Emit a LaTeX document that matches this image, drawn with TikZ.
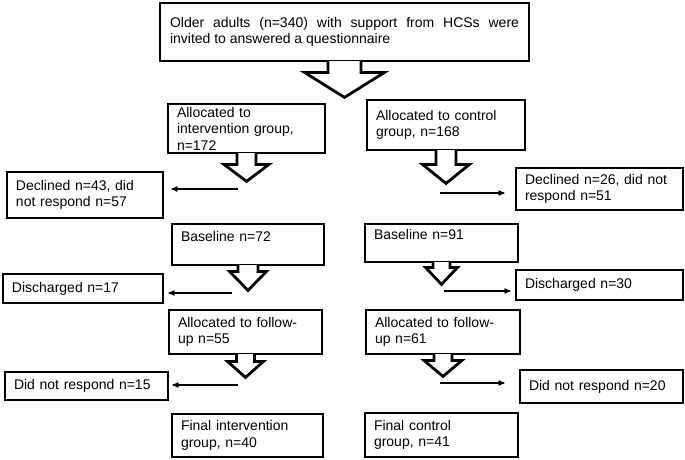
\documentclass[tikz,border=0pt]{standalone}
\usepackage{fontspec}
\setmainfont{Liberation Sans}
\usepackage{tikz}
\usetikzlibrary{arrows}

\tikzset{
  box/.style={draw, line width=2.8pt, align=left, inner xsep=9pt, inner ysep=0pt,
    font=\fontsize{14}{16.5}\selectfont},
  blockline/.style={line width=2.8pt, line cap=rect, line join=miter},
  link/.style={->, >=stealth', line width=1.2pt},
}

% block arrow under a box: node, half shaft, half head, shaft length, head length
\newcommand{\flowarrow}[5]{%
  \fill[white] ([xshift=-#2pt]#1.south) ++(0,-1.6) rectangle ++(2*#2,1.6+#4);
  \draw[blockline] ([xshift=-#2pt]#1.south) -- ++(0,#4) -- ++(#2-#3,0)
    -- ++(#3,#5) -- ++(#3,-#5) -- ++(#2-#3,0) -- ++(0,-#4);
}

\begin{document}
\begin{tikzpicture}[x=1pt,y=-1pt]
\useasboundingbox (0,0) rectangle (685,459);

\node[box, align=justify, inner xsep=10pt, text width=349pt, minimum height=58pt] (start) at (344.5,32)
  {Older adults (n=340) with support from HCSs were\linebreak invited to answered a questionnaire};

% intervention column
\node[box, text width=139pt, minimum height=49pt] (intalloc) at (246.5,128.5) {Allocated to\\intervention group,\\n=172};
\node[box, text width=134pt, minimum height=41pt] (intbase)  at (248,244.5)   {Baseline n=72\\\mbox{}};
\node[box, text width=135pt, minimum height=44pt] (intfu)    at (245.5,332)   {Allocated to follow-\\up n=55};
\node[box, text width=133pt, minimum height=43pt] (intfinal) at (247.5,435.5) {Final intervention\\group, n=40};

% control column
\node[box, text width=140pt, minimum height=50pt] (ctrlalloc) at (446,125)    {Allocated to control\\group, n=168};
\node[box, text width=135pt, minimum height=38pt] (ctrlbase)  at (441.5,243)  {Baseline n=91\\\mbox{}};
\node[box, text width=136pt, minimum height=44pt] (ctrlfu)    at (443,332)    {Allocated to follow-\\up n=61};
\node[box, text width=135pt, minimum height=44pt] (ctrlfinal) at (441.5,435)  {Final control\\group, n=41};

% drop-outs
\node[box, text width=138pt, minimum height=46pt] (intdecl)   at (85,195)     {Declined n=43, did\\not respond n=57};
\node[box, text width=149pt, minimum height=42pt] (ctrldecl)  at (599.5,189)  {Declined n=26, did not\\respond n=51};
\node[box, text width=142pt, minimum height=29pt] (intdisch)  at (83,288.5)   {Discharged n=17};
\node[box, text width=149pt, minimum height=30pt] (ctrldisch) at (599.5,285)  {Discharged n=30};
\node[box, text width=145pt, minimum height=28pt] (intdnr)    at (86.5,386)   {Did not respond n=15};
\node[box, text width=145pt, minimum height=33pt] (ctrldnr)   at (601.5,386.5) {Did not respond n=20};

\flowarrow{start}{16.5}{40}{10}{25}
\flowarrow{intalloc}{9.5}{22.5}{10}{17}
\flowarrow{ctrlalloc}{10}{23.5}{13}{19}
\flowarrow{intbase}{10}{18.5}{5}{19}
\flowarrow{ctrlbase}{8.5}{16}{4}{17}
\flowarrow{intfu}{9}{18}{6}{16}
\flowarrow{ctrlfu}{9}{19}{5}{16}

\coordinate (d1) at (238,189);
\coordinate (d2) at (440,193);
\coordinate (d3) at (232,293);
\coordinate (d4) at (444,291);
\coordinate (d5) at (238,385);
\coordinate (d6) at (440,383);

\path[link]
  (d1) edge[shorten >=7pt]  (d1 -| intdecl.east)
  (d2) edge[shorten >=10pt] (d2 -| ctrldecl.west)
  (d3) edge[shorten >=4pt]  (d3 -| intdisch.east)
  (d4) edge[shorten >=4pt]  (d4 -| ctrldisch.west)
  (d5) edge[shorten >=3pt]  (d5 -| intdnr.east)
  (d6) edge[shorten >=14pt] (d6 -| ctrldnr.west);

\end{tikzpicture}
\end{document}
